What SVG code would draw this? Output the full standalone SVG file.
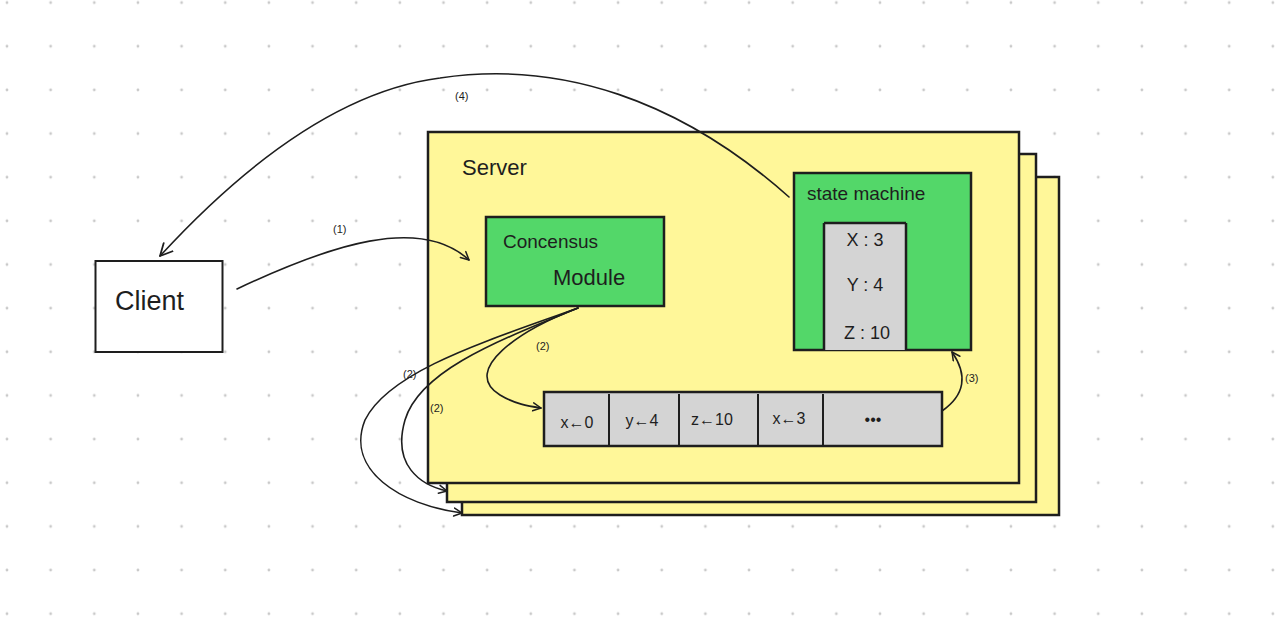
<svg xmlns="http://www.w3.org/2000/svg" width="1280" height="618" viewBox="0 0 1280 618">
<defs>
<pattern id="dots" patternUnits="userSpaceOnUse" x="-14.8" y="-19.2" width="43.65" height="43.65">
<circle cx="21.8" cy="21.8" r="1.4" fill="#c9c9c9"/>
</pattern>
<marker id="arr" viewBox="0 0 10 10" refX="9" refY="5" markerWidth="10" markerHeight="10" markerUnits="userSpaceOnUse" orient="auto">
<path d="M1,1 L9,5 L1,9" fill="none" stroke="#1e1e1e" stroke-width="1.5" stroke-linecap="round" stroke-linejoin="round"/>
</marker>
<marker id="arrL" viewBox="0 0 14 14" refX="13" refY="7" markerWidth="14" markerHeight="14" markerUnits="userSpaceOnUse" orient="auto">
<path d="M1,1 L13,7 L1,13" fill="none" stroke="#1e1e1e" stroke-width="1.8" stroke-linecap="round" stroke-linejoin="round"/>
</marker>
</defs>
<style>
.box{stroke:#1e1e1e;stroke-width:2.5}
.yellow{fill:#fff799}
.green{fill:#53d769}
.gray{fill:#d4d4d4}
.t{font-family:"Liberation Sans",Arial,sans-serif;fill:#1e1e1e}
.lbl{font-family:"Liberation Sans",Arial,sans-serif;fill:#1e1e1e;font-size:11px}
.conn{fill:none;stroke:#1e1e1e;stroke-width:1.6;stroke-linecap:round}
</style>
<rect width="1280" height="618" fill="#ffffff"/>
<rect width="1280" height="618" fill="url(#dots)"/>

<g id="server-stack">
<rect class="box yellow" x="462" y="177" width="597" height="338"/>
<rect class="box yellow" x="447" y="154" width="589" height="348"/>
</g>
<g id="server">
<rect class="box yellow" x="428" y="132" width="591" height="351"/>
<text class="t" x="462" y="175" font-size="22">Server</text>
</g>
<g id="client">
<rect x="95.5" y="261" width="127" height="91" fill="#ffffff" stroke="#1e1e1e" stroke-width="2"/>
<text class="t" x="115" y="310" font-size="27">Client</text>
</g>
<g id="consensus">
<rect class="box green" x="486" y="217" width="178" height="89"/>
<text class="t" x="503" y="248" font-size="19">Concensus</text>
<text class="t" x="553" y="285" font-size="22">Module</text>
</g>
<g id="state-machine">
<rect class="box green" x="794" y="173" width="177" height="177"/>
<text class="t" x="807" y="200" font-size="19">state machine</text>
<rect class="gray" x="824" y="223" width="82" height="127"/>
<path d="M824,223 L906,223 M824,223 L824,350 M906,223 L906,350" fill="none" stroke="#1e1e1e" stroke-width="2.5"/>
<text class="t" x="865" y="246" font-size="18" text-anchor="middle">X : 3</text>
<text class="t" x="865" y="291" font-size="18" text-anchor="middle">Y : 4</text>
<text class="t" x="867" y="339" font-size="18" text-anchor="middle">Z : 10</text>
</g>
<g id="log">
<rect class="box gray" x="544" y="392" width="398" height="54"/>
<path d="M609,394 V446 M679,394 V446 M758,394 V446 M823,394 V446" stroke="#1e1e1e" stroke-width="2"/>
<text class="t" x="577" y="428" font-size="16" text-anchor="middle">x←0</text>
<text class="t" x="642" y="426" font-size="16" text-anchor="middle">y←4</text>
<text class="t" x="712" y="425" font-size="16" text-anchor="middle">z←10</text>
<text class="t" x="789" y="424" font-size="16" text-anchor="middle">x←3</text>
<text class="t" x="873" y="425" font-size="16" text-anchor="middle">•••</text>
</g>
<g id="connectors">
<path class="conn" d="M237,289 C330,245 420,215 469,260" marker-end="url(#arr)"/>
<path class="conn" d="M789,197 C680,100 560,60 440,78 C330,92 230,180 160,256" marker-end="url(#arrL)"/>
<path class="conn" d="M578,308 C520,330 460,370 500,395 C515,404 528,406 541,408" marker-end="url(#arr)"/>
<path class="conn" d="M578,308 C500,340 420,370 405,420 C392,465 420,485 447,491" marker-end="url(#arr)"/>
<path class="conn" d="M578,308 C490,340 390,370 365,420 C345,470 400,505 462,513" marker-end="url(#arr)"/>
<path class="conn" d="M942,411 C965,395 968,375 952,352" marker-end="url(#arr)"/>
<text class="lbl" x="333" y="233">(1)</text>
<text class="lbl" x="455" y="100">(4)</text>
<text class="lbl" x="536" y="350">(2)</text>
<text class="lbl" x="403" y="378">(2)</text>
<text class="lbl" x="430" y="412">(2)</text>
<text class="lbl" x="965" y="382">(3)</text>
</g>
</svg>
